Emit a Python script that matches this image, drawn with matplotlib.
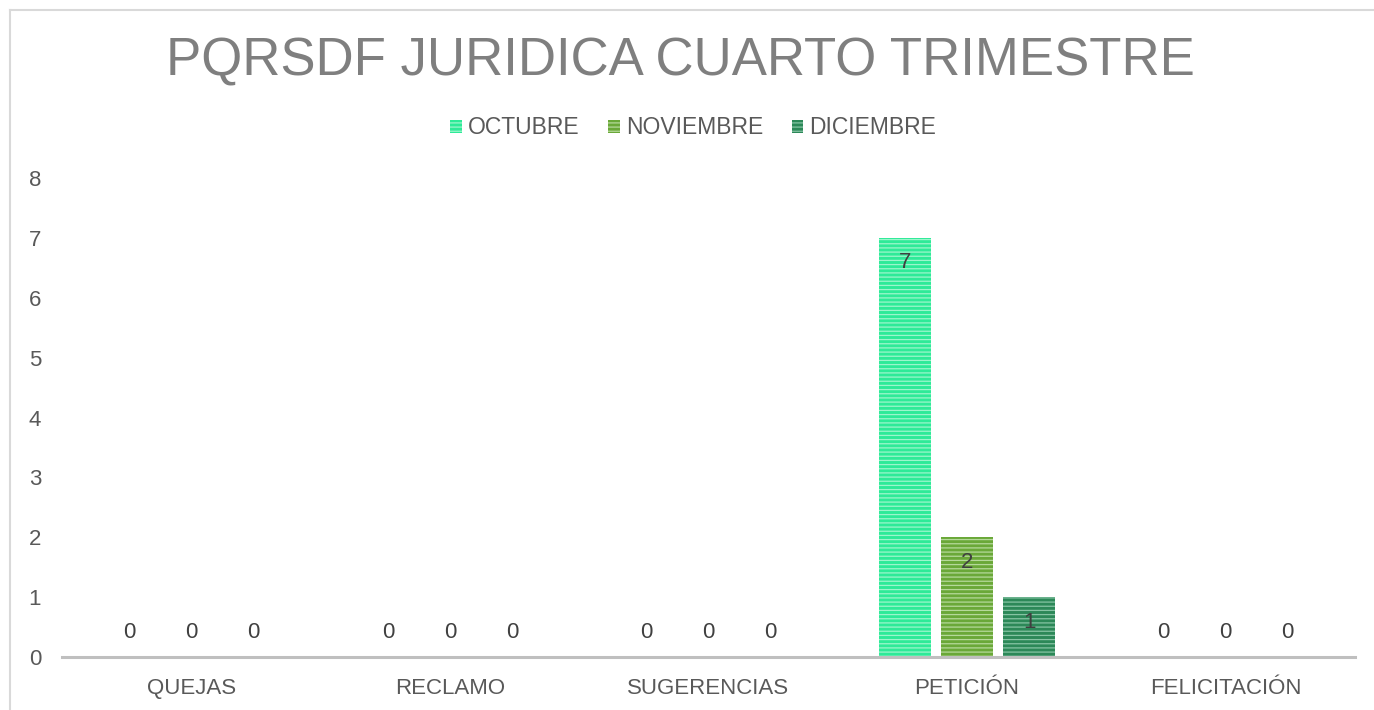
import matplotlib
matplotlib.use("Agg")
import matplotlib.pyplot as plt
import numpy as np
from matplotlib.lines import Line2D
from matplotlib.patches import Patch

categories = ["QUEJAS", "RECLAMO", "SUGERENCIAS", "PETICIÓN", "FELICITACIÓN"]
series_names = ["OCTUBRE", "NOVIEMBRE", "DICIEMBRE"]
octubre = [0, 0, 0, 7, 0]
noviembre = [0, 0, 0, 2, 0]
diciembre = [0, 0, 0, 1, 0]
yticks = [0, 1, 2, 3, 4, 5, 6, 7, 8]

colors = ["#2EEA98", "#6AA838", "#2C8858"]
stripe_colors = ["#9CF6CC", "#B5D99A", "#86C4A4"]

plt.rcParams['font.family'] = ['Liberation Sans', 'DejaVu Sans']
plt.rcParams['hatch.linewidth'] = 0.9

W, H = 1374, 710
fig = plt.figure(figsize=(W / 100, H / 100), dpi=100)
fig.patch.set_facecolor("white")

# frame border of chart area
fig.add_artist(Line2D([10 / W, 10 / W], [0, 1 - 10 / H], transform=fig.transFigure, color="#D9D9D9", lw=1.5))
fig.add_artist(Line2D([10 / W, 1], [1 - 10 / H, 1 - 10 / H], transform=fig.transFigure, color="#D9D9D9", lw=1.5))

ax = fig.add_axes([62 / W, 53 / H, (1355 - 62) / W, (657 - 178) / H])
ax.set_facecolor("none")

x = np.arange(len(categories))
width = 52 / 258.6
step = 62 / 258.6
all_series = [octubre, noviembre, diciembre]

for i, (vals, name) in enumerate(zip(all_series, series_names)):
    pos = x + (i - 1) * step
    ax.bar(pos, vals, width=width, color=colors[i], edgecolor="none", label=name, zorder=2)
    ax.bar(pos, vals, width=width, color="none", edgecolor=stripe_colors[i], hatch="----",
           linewidth=0, zorder=3)
    for p, v in zip(pos, vals):
        if v > 0:
            ax.annotate(str(v), (p, v), xytext=(0, -18), textcoords="offset points",
                        ha="center", va="center", fontsize=16, color="#404040", zorder=5)
        else:
            ax.annotate(str(v), (p, 0), xytext=(0, 17.5), textcoords="offset points",
                        ha="center", va="center", fontsize=16, color="#404040", zorder=5)

ax.set_xlim(-0.5, len(categories) - 0.5)
ax.set_ylim(0, 8)
ax.set_yticks(yticks)
ax.set_xticks(x)
ax.set_xticklabels(categories)
for s in ["top", "right", "left"]:
    ax.spines[s].set_visible(False)
ax.spines["bottom"].set_color("#BFBFBF")
ax.spines["bottom"].set_linewidth(2.2)
ax.spines["bottom"].set_zorder(4)
ax.tick_params(axis="both", length=0, labelsize=16, labelcolor="#595959")
ax.tick_params(axis="y", pad=15)
ax.tick_params(axis="x", pad=15)

fig.text(680 / W, 1 - 62 / H, "PQRSDF JURIDICA CUARTO TRIMESTRE", ha="center", va="center",
         fontsize=38, color="#7F7F7F")

handles = []
for i, name in enumerate(series_names):
    handles.append(Patch(facecolor=colors[i], edgecolor=stripe_colors[i], hatch="----", linewidth=0))
leg = fig.legend(handles, series_names, loc="center", bbox_to_anchor=(693 / W, 1 - 128 / H),
                 ncol=3, frameon=False, fontsize=16.5, handlelength=0.52, handleheight=0.52,
                 handletextpad=0.26, columnspacing=1.25)
for t in leg.get_texts():
    t.set_color("#595959")

fig.savefig("out.png", dpi=100, facecolor="white")
